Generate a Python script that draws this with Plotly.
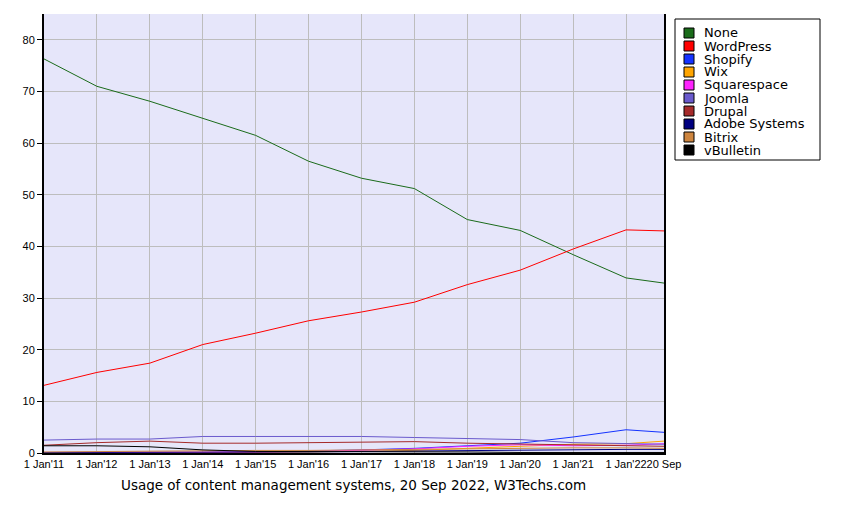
import plotly.graph_objects as go

dates = ["2011-01-01", "2012-01-01", "2013-01-01", "2014-01-01", "2015-01-01", "2016-01-01",
         "2017-01-01", "2018-01-01", "2019-01-01", "2020-01-01", "2021-01-01", "2022-01-01",
         "2022-09-20"]
tick_labels = ["1 Jan'11", "1 Jan'12", "1 Jan'13", "1 Jan'14", "1 Jan'15", "1 Jan'16",
               "1 Jan'17", "1 Jan'18", "1 Jan'19", "1 Jan'20", "1 Jan'21", "1 Jan'22", "20 Sep"]

names = ["None", "WordPress", "Shopify", "Wix", "Squarespace", "Joomla", "Drupal",
         "Adobe Systems", "Bitrix", "vBulletin"]
colors = ["#1a6b1a", "#ff0000", "#1432ff", "#ffa500", "#ff22ff", "#6a5acd", "#a52a2a",
          "#000080", "#cd853f", "#000000"]

none_v = [76.3, 71.0, 68.1, 64.8, 61.5, 56.5, 53.2, 51.2, 45.2, 43.1, 38.4, 33.9, 32.9]
wordpress = [13.1, 15.6, 17.4, 21.0, 23.2, 25.6, 27.3, 29.2, 32.6, 35.4, 39.5, 43.2, 43.0]
shopify = [None, None, None, 0.1, 0.2, 0.4, 0.6, 0.9, 1.4, 1.9, 3.1, 4.5, 4.0]
wix = [0.0, 0.0, 0.0, 0.0, 0.1, 0.2, 0.3, 0.5, 0.9, 1.3, 1.7, 1.8, 2.3]
squarespace = [0.1, 0.1, 0.1, 0.1, 0.2, 0.3, 0.5, 0.8, 1.3, 1.6, 1.4, 1.5, 1.8]
joomla = [2.5, 2.7, 2.7, 3.2, 3.2, 3.2, 3.2, 3.0, 2.8, 2.6, 2.0, 1.8, 1.7]
drupal = [1.5, 2.0, 2.3, 1.9, 1.9, 2.0, 2.0, 2.2, 1.9, 1.7, 1.5, 1.4, 1.3]
adobe = [0.1, 0.1, 0.1, 0.1, 0.2, 0.2, 0.3, 0.4, 0.5, 0.6, 0.7, 0.7, 0.7]
bitrix = [0.2, 0.3, 0.4, 0.4, 0.5, 0.5, 0.6, 0.7, 0.9, 1.0, 1.0, 1.0, 0.9]
vbulletin = [1.4, 1.4, 1.2, 0.6, 0.3, 0.3, 0.3, 0.2, 0.2, 0.1, 0.1, 0.1, 0.1]

series = [none_v, wordpress, shopify, wix, squarespace, joomla, drupal, adobe, bitrix, vbulletin]

# page body has an 8px margin; compensate so the screen positions match
OFF = 8
W, H = 847 - OFF, 513 - OFF
L, R, T, B = 44 - OFF, 664 - OFF, 14 - OFF, 453 - OFF

def px(x):
    return (x - OFF - L) / (R - L)

def py(y):
    return (B - (y - OFF)) / (B - T)

fig = go.Figure()
for name, col, vals in zip(names, colors, series):
    fig.add_trace(go.Scatter(x=dates, y=vals, mode="lines", name=name,
                             line=dict(color=col, width=1), showlegend=False,
                             hoverinfo="x+y+name"))

# custom legend
shapes = [dict(type="rect", xref="paper", yref="paper", x0=px(675), x1=px(820),
               y0=py(160), y1=py(19), line=dict(color="black", width=1),
               fillcolor="white")]
annotations = []
for i, (name, col) in enumerate(zip(names, colors)):
    cy = 33 + 13 * i
    shapes.append(dict(type="rect", xref="paper", yref="paper", x0=px(684), x1=px(694),
                       y0=py(cy + 5), y1=py(cy - 5), line=dict(color="black", width=1),
                       fillcolor=col))
    annotations.append(dict(xref="paper", yref="paper", x=px(702), y=py(cy),
                            xanchor="left", yanchor="middle", text=name, showarrow=False,
                            font=dict(family="DejaVu Sans", size=13, color="black")))

annotations.append(dict(xref="paper", yref="paper", x=px(353), y=py(485),
                        xanchor="center", yanchor="middle",
                        text="Usage of content management systems, 20 Sep 2022, W3Techs.com",
                        showarrow=False,
                        font=dict(family="DejaVu Sans", size=13.5, color="black")))

fig.update_layout(
    width=W, height=H,
    margin=dict(l=L, r=W - R, t=T, b=H - B, pad=0),
    paper_bgcolor="white",
    plot_bgcolor="#e6e6fa",
    shapes=shapes,
    annotations=annotations,
    showlegend=False,
    xaxis=dict(type="date", range=["2011-01-01", "2022-09-20"], tickvals=dates,
               ticktext=tick_labels, showgrid=True, gridcolor="#bdbdbd", gridwidth=1,
               showline=True, linecolor="black", linewidth=2, ticks="", tickangle=0,
               tickfont=dict(family="Liberation Sans Narrow, Arial Narrow, Liberation Sans", size=11, color="black"),
               zeroline=False, fixedrange=True),
    yaxis=dict(range=[0, 85], tickvals=[0, 10, 20, 30, 40, 50, 60, 70, 80],
               showgrid=True, gridcolor="#bdbdbd", gridwidth=1,
               showline=True, linecolor="black", linewidth=2, mirror=True,
               ticks="outside", ticklen=5, tickcolor="black", tickwidth=1,
               tickfont=dict(family="Liberation Sans, Arial", size=11, color="black"),
               zeroline=False, fixedrange=True),
)

fig.write_html("out.html")
